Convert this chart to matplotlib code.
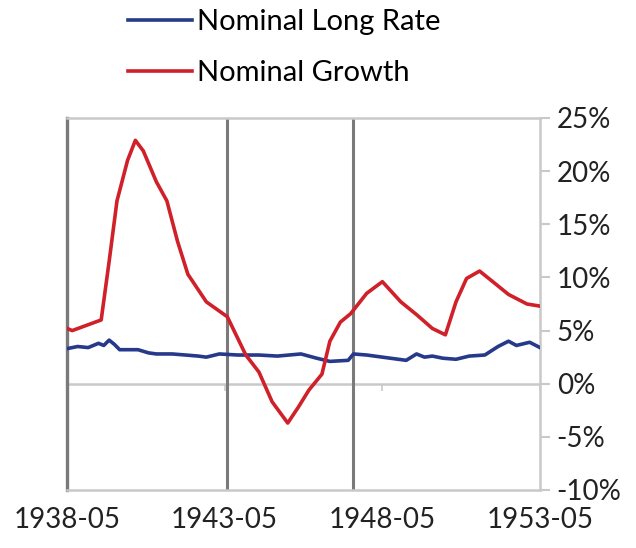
import pandas as pd
import matplotlib
matplotlib.use("Agg")
import matplotlib.pyplot as plt
import matplotlib.dates as mdates

# data (percent)
growth_dates = ["1938-05", "1938-07", "1939-06", "1939-09", "1939-12", "1940-04",
                "1940-07", "1940-10", "1941-03", "1941-07", "1941-11", "1942-03",
                "1942-10", "1943-06", "1944-01", "1944-06", "1944-11", "1945-05",
                "1945-09", "1946-01", "1946-06", "1946-09", "1947-01", "1947-05",
                "1947-11", "1948-05", "1948-12", "1949-06", "1949-12", "1950-05",
                "1950-09", "1951-01", "1951-06", "1951-11", "1952-05", "1952-12",
                "1953-05"]
growth = [5.2, 5.0, 6.0, 11.5, 17.2, 21.0,
          22.9, 21.9, 19.0, 17.2, 13.4, 10.3,
          7.7, 6.3, 2.7, 1.1, -1.7, -3.7,
          -2.2, -0.6, 0.9, 4.0, 5.8, 6.6,
          8.5, 9.6, 7.7, 6.5, 5.2, 4.6,
          7.7, 9.9, 10.6, 9.6, 8.4, 7.5,
          7.3]

rate_dates = ["1938-05", "1938-09", "1939-01", "1939-05", "1939-07", "1939-09",
              "1939-11", "1940-01", "1940-08", "1940-12", "1941-03", "1941-09",
              "1942-02", "1942-07", "1942-10", "1943-03", "1943-10", "1944-06",
              "1945-01", "1945-10", "1946-04", "1946-09", "1947-04", "1947-06",
              "1947-11", "1948-05", "1949-02", "1949-06", "1949-09", "1949-12",
              "1950-04", "1950-09", "1951-02", "1951-08", "1952-01", "1952-05",
              "1952-08", "1953-01", "1953-05"]
rate = [3.3, 3.5, 3.4, 3.8, 3.6, 4.1,
        3.7, 3.2, 3.2, 2.9, 2.8, 2.8,
        2.7, 2.6, 2.5, 2.8, 2.7, 2.7,
        2.6, 2.8, 2.4, 2.1, 2.2, 2.8,
        2.7, 2.5, 2.2, 2.8, 2.5, 2.6,
        2.4, 2.3, 2.6, 2.7, 3.5, 4.0,
        3.6, 3.9, 3.4]

event_dates = ["1943-06", "1947-06"]
tick_dates = ["1938-05", "1943-05", "1948-05", "1953-05"]
y_ticks = [-10, -5, 0, 5, 10, 15, 20, 25]

plt.rcParams["font.family"] = ["Lato", "DejaVu Sans"]

light = "#c9c9c9"
dark = "#7a7a7a"

fig = plt.figure(figsize=(6.36, 5.48), dpi=100)
ax = fig.add_axes([67 / 636, 1 - 490 / 548, 473 / 636, 372 / 548])

gd = pd.to_datetime(growth_dates)
rd = pd.to_datetime(rate_dates)
td = pd.to_datetime(tick_dates)

ax.axhline(0, color=light, lw=1.8, zorder=1)
for d in pd.to_datetime(event_dates):
    ax.axvline(d, color=dark, lw=2.2, zorder=1)

ax.plot(rd, rate, color="#26398a", lw=2.6, label="Nominal Long Rate", zorder=3)
ax.plot(gd, growth, color="#d0202a", lw=2.6, label="Nominal Growth", zorder=3)

ax.set_xlim(td[0], td[-1])
ax.set_ylim(-10, 25)

ax.set_xticks(td)
ax.xaxis.set_major_formatter(mdates.DateFormatter("%Y-%m"))
ax.tick_params(axis="x", length=0, pad=12, labelsize=20, colors="#222222")

ax.yaxis.tick_right()
ax.set_yticks(y_ticks)
ax.set_yticklabels([f"{v}%" for v in y_ticks])
ax.tick_params(axis="y", length=7, width=1.5, color=light, pad=5,
               labelsize=20, labelcolor="#222222")

for side in ["top", "right", "bottom"]:
    ax.spines[side].set_color(light)
    ax.spines[side].set_linewidth(1.8)
ax.spines["left"].set_color(dark)
ax.spines["left"].set_linewidth(2.4)

# small tick marks sitting on the zero line
sec = ax.secondary_xaxis(10 / 35)
sec.set_xticks(td)
sec.tick_params(axis="x", length=5, width=1.2, color=light, labelbottom=False,
                direction="out")
sec.spines["bottom"].set_visible(False)

fig.legend(loc="upper left", bbox_to_anchor=(128 / 636, 1 - 9 / 548), frameon=False,
           fontsize=21, handlelength=2.2, handletextpad=0.15, labelspacing=0.85,
           borderpad=0, borderaxespad=0)

fig.savefig("out.png", dpi=100)
